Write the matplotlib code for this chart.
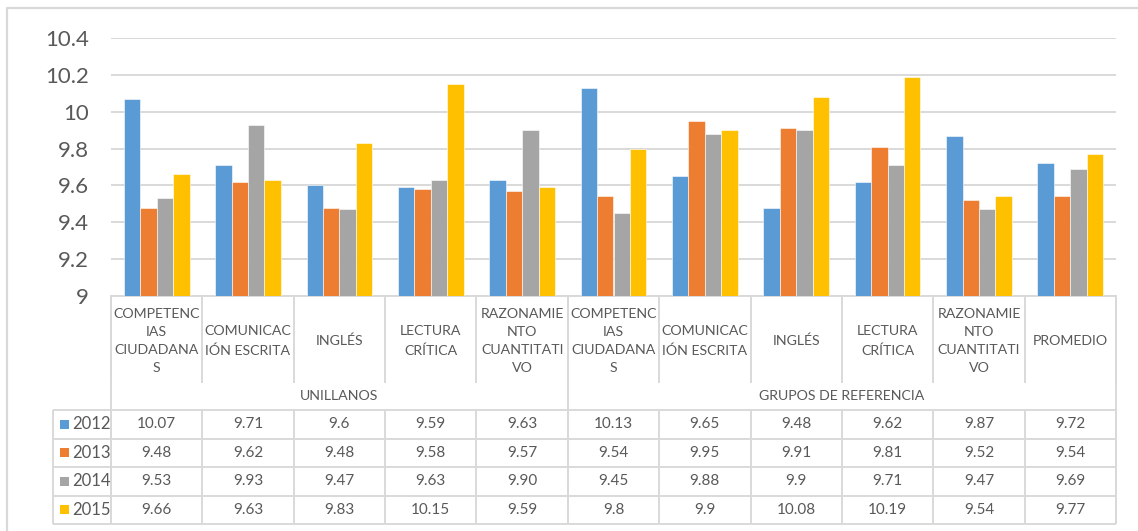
import numpy as np
import matplotlib
matplotlib.use("Agg")
import matplotlib.pyplot as plt

plt.rcParams['font.family'] = ['Lato', 'DejaVu Sans']

# ---- data (as shown in the chart's data table) ----
categories = ["COMPETENC\nIAS\nCIUDADANA\nS", "COMUNICAC\nIÓN ESCRITA", "INGLÉS",
              "LECTURA\nCRÍTICA", "RAZONAMIE\nNTO\nCUANTITATI\nVO",
              "COMPETENC\nIAS\nCIUDADANA\nS", "COMUNICAC\nIÓN ESCRITA", "INGLÉS",
              "LECTURA\nCRÍTICA", "RAZONAMIE\nNTO\nCUANTITATI\nVO", "PROMEDIO"]
groups = ["UNILLANOS", "GRUPOS DE REFERENCIA"]
group_spans = [(0, 5), (5, 11)]
years = ["2012", "2013", "2014", "2015"]
vals_2012 = ["10.07", "9.71", "9.6", "9.59", "9.63", "10.13", "9.65", "9.48", "9.62", "9.87", "9.72"]
vals_2013 = ["9.48", "9.62", "9.48", "9.58", "9.57", "9.54", "9.95", "9.91", "9.81", "9.52", "9.54"]
vals_2014 = ["9.53", "9.93", "9.47", "9.63", "9.90", "9.45", "9.88", "9.9", "9.71", "9.47", "9.69"]
vals_2015 = ["9.66", "9.63", "9.83", "10.15", "9.59", "9.8", "9.9", "10.08", "10.19", "9.54", "9.77"]
series = [vals_2012, vals_2013, vals_2014, vals_2015]
colors = ['#5B9BD5', '#ED7D31', '#A5A5A5', '#FFC000']

W, H = 1138, 531
fig = plt.figure(figsize=(W / 100, H / 100), dpi=100)
fig.patch.set_facecolor('white')

# pixel layout
px_left, px_right = 111, 1116
px_top, px_axis = 38, 296
tab_left = 53
hdr_bottom, grp_bottom = 383, 410
row_h = 28.5
ncat = len(categories)
colw = (px_right - px_left) / ncat
txt_col = '#595959'
line_col = '#D9D9D9'

ax = fig.add_axes([px_left / W, 1 - px_axis / H, (px_right - px_left) / W, (px_axis - px_top) / H])
ax.patch.set_alpha(0)
x = np.arange(ncat)
bw = 0.18
for k, (s, c) in enumerate(zip(series, colors)):
    ax.bar(x + (k - 1.5) * bw, [float(v) for v in s], width=bw, color=c,
           edgecolor='white', linewidth=0.4, zorder=3)
ax.set_xlim(-0.5, ncat - 0.5)
ax.set_ylim(9, 10.4)
ax.set_yticks(np.arange(9, 10.41, 0.2))
ax.set_yticklabels(["9", "9.2", "9.4", "9.6", "9.8", "10", "10.2", "10.4"])
ax.tick_params(axis='y', length=0, pad=16, labelsize=16, labelcolor=txt_col)
ax.set_xticks([])
ax.grid(axis='y', color=line_col, linewidth=1.4, zorder=0)
for sp in ['top', 'right', 'left']:
    ax.spines[sp].set_visible(False)
ax.spines['bottom'].set_color(line_col)
ax.spines['bottom'].set_linewidth(1.4)

# ---- data table drawn in pixel space ----
tb = fig.add_axes([0, 0, 1, 1])
tb.set_xlim(0, W)
tb.set_ylim(H, 0)
tb.axis('off')
tb.patch.set_alpha(0)

lw = 1.4
def hline(y, x0, x1):
    tb.plot([x0, x1], [y, y], color=line_col, lw=lw, solid_capstyle='butt')
def vline(xx, y0, y1):
    tb.plot([xx, xx], [y0, y1], color=line_col, lw=lw, solid_capstyle='butt')

table_bottom = grp_bottom + row_h * len(years)
for k in range(ncat + 1):
    xx = px_left + k * colw
    vline(xx, px_axis, hdr_bottom)
    vline(xx, grp_bottom, table_bottom)
for a, b in group_spans:
    vline(px_left + a * colw, px_axis, table_bottom)
    vline(px_left + b * colw, px_axis, table_bottom)
vline(tab_left, grp_bottom, table_bottom)
for j in range(len(years) + 1):
    hline(grp_bottom + j * row_h, tab_left, px_right)

# category labels
for k, lab in enumerate(categories):
    tb.text(px_left + (k + 0.5) * colw, (px_axis + hdr_bottom) / 2 + 1.5, lab,
            ha='center', va='center', fontsize=10.2, color=txt_col, linespacing=1.62)
# group labels
for g, (a, b) in zip(groups, group_spans):
    tb.text(px_left + (a + b) / 2 * colw, (hdr_bottom + grp_bottom) / 2, g,
            ha='center', va='center', fontsize=10.2, color=txt_col)
# rows
for j, (yr, s, c) in enumerate(zip(years, series, colors)):
    yc = grp_bottom + (j + 0.5) * row_h
    tb.add_patch(plt.Rectangle((60, yc - 4.5), 9, 9, color=c, lw=0))
    tb.text(72, yc, yr, ha='left', va='center', fontsize=12, color=txt_col)
    for k, v in enumerate(s):
        tb.text(px_left + (k + 0.5) * colw, yc, v, ha='center', va='center',
                fontsize=11, color=txt_col)

# outer chart border (top and left visible)
tb.plot([7.5, 7.5, W], [H, 8, 8], color=line_col, lw=1.6)

fig.savefig("out.png", dpi=100, facecolor='white')
